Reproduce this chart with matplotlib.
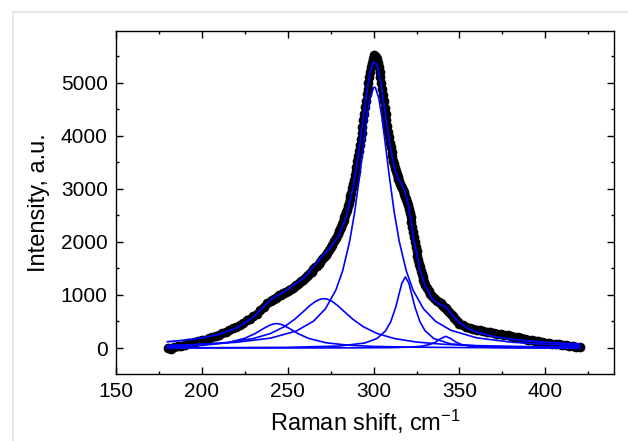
import numpy as np
import matplotlib
matplotlib.use("Agg")
import matplotlib.pyplot as plt
from matplotlib.lines import Line2D
from matplotlib.ticker import MultipleLocator

plt.rcParams['font.family'] = ['Liberation Sans', 'DejaVu Sans']
plt.rcParams['mathtext.default'] = 'regular'

# measured spectrum (black dots), sampled finer around the main peak
shift = np.concatenate([np.arange(180, 240, 2), np.arange(240, 280, 1),
                        np.arange(280, 330, 0.5), np.arange(330, 350, 1),
                        np.arange(350, 421, 2)])
intensity = [
    5, -10, 20, 30, 45, 60, 85, 100, 110, 140, 160, 150, 195, 215, 230,
    250, 285, 300, 335, 370, 400, 440, 470, 520, 555, 610, 650, 720, 770, 840,
    880, 905, 920, 950, 960, 990, 1000, 1030, 1040, 1060,
    1080, 1100, 1110, 1140, 1160, 1190, 1210, 1240, 1260, 1290,
    1320, 1350, 1370, 1410, 1440, 1480, 1520, 1550, 1590, 1630,
    1680, 1720, 1760, 1800, 1850, 1900, 1950, 2010, 2070, 2140,
    2200, 2240, 2290, 2330, 2370, 2420, 2460, 2500, 2560, 2610,
    2670, 2730, 2800, 2860, 2930, 3010, 3090, 3170, 3260, 3340,
    3420, 3520, 3610, 3720, 3830, 3940, 4050, 4170, 4290, 4420,
    4540, 4660, 4780, 4890, 5000, 5100, 5200, 5290, 5370, 5440,
    5490, 5520, 5510, 5480, 5440, 5380, 5300, 5210, 5110, 5000,
    4890, 4770, 4650, 4530, 4410, 4290, 4180, 4070, 3970, 3870,
    3780, 3690, 3610, 3530, 3460, 3390, 3330, 3280, 3230, 3180,
    3140, 3100, 3060, 3020, 2980, 2940, 2900, 2850, 2800, 2750,
    2690, 2620, 2550, 2470, 2380, 2290, 2190, 2090, 1990, 1900,
    1820, 1740, 1660, 1590, 1520, 1460, 1400, 1340, 1290, 1240,
    1190, 1130, 1070, 1020, 980, 950, 920, 890, 860, 840,
    810, 780, 750, 720, 680, 640, 600, 560, 520, 490,
    460, 430, 400, 385, 360, 345, 330, 320, 305, 295, 285, 270,
    262, 250, 238, 225, 212, 200, 190, 175, 160, 148, 135, 125,
    112, 100, 90, 80, 70, 75, 55, 60, 40, 45, 25, 15,
]

# cumulative fit
fit_x = [180, 190, 200, 210, 220, 230, 240, 250, 260, 265, 270, 275, 280, 284,
         288, 291, 294, 296, 298, 300, 302, 304, 306, 308, 310, 312, 314, 316,
         318, 320, 322, 324, 327, 330, 334, 338, 342, 346, 350, 355, 360, 370,
         380, 390, 400, 410, 420]
fit_y = [118, 148, 190, 258, 371, 582, 907, 1106, 1336, 1529, 1726, 1902, 2134,
         2460, 3008, 3606, 4336, 4818, 5205, 5395, 5331, 5040, 4611, 4150, 3742,
         3420, 3220, 3100, 2980, 2740, 2350, 1953, 1478, 1177, 937, 831, 774,
         615, 473, 367, 299, 217, 166, 132, 108, 90, 74]

# fitted components
p300_x = [180, 200, 220, 240, 255, 265, 272, 278, 282, 286, 289, 292, 294, 296,
          298, 300, 301, 303, 305, 307, 309, 312, 315, 319, 323, 329, 336, 345,
          360, 380, 400, 420]
p300_y = [48, 69, 107, 186, 320, 505, 741, 1089, 1457, 2000, 2565, 3276, 3805,
          4312, 4715, 4912, 4912, 4715, 4312, 3805, 3276, 2565, 2000, 1457, 1089,
          741, 505, 334, 192, 110, 71, 49]

p271_x = [180, 200, 215, 230, 240, 248, 254, 259, 263, 266, 269, 271, 273, 276,
          279, 283, 288, 294, 302, 312, 325, 340, 360, 390, 420]
p271_y = [43, 68, 105, 179, 274, 401, 540, 684, 802, 875, 921, 930, 921, 875,
          802, 684, 540, 401, 274, 179, 112, 72, 45, 26, 16]

p243_x = [180, 200, 215, 225, 231, 236, 239.5, 242, 243.5, 245, 247.5, 251, 256,
          262, 272, 285, 300, 320, 350, 385, 420]
p243_y = [24, 49, 100, 183, 272, 368, 429, 455, 460, 455, 429, 368, 272, 183,
          100, 53, 30, 17, 9, 5, 3]

p318_x = [180, 250, 280, 295, 302, 307, 310, 313, 315, 316.5, 318.5, 320.5, 322,
          324, 327, 330, 335, 345, 365, 390, 420]
p318_y = [3, 12, 37, 95, 180, 324, 494, 781, 1039, 1224, 1340, 1224, 1039, 781,
          494, 324, 180, 76, 26, 11, 5]

p342_x = [180, 280, 310, 322, 328, 333, 336, 339, 342, 345, 348, 351, 356, 362,
          375, 400, 420]
p342_y = [0, 2, 7, 18, 34, 68, 110, 176, 220, 176, 110, 68, 34, 18, 7, 2, 1]

fig = plt.figure(figsize=(6.28, 4.41), dpi=100)
ax = fig.add_axes([116 / 628, 1 - 374 / 441, 498 / 628, 343 / 441])

# faint frame of the original page
fig.add_artist(Line2D([13 / 628, 13 / 628], [0, 1 - 12 / 441], color='#e4e4e4', lw=1.2))
fig.add_artist(Line2D([13 / 628, 1], [1 - 12 / 441, 1 - 12 / 441], color='#e4e4e4', lw=1.2))

ax.plot(shift, intensity, 'o', color='black', ms=6, mec='black', zorder=2)

for cx, cy in [(p300_x, p300_y), (p271_x, p271_y), (p243_x, p243_y),
               (p318_x, p318_y), (p342_x, p342_y)]:
    ax.plot(cx, cy, color='#0000ff', lw=1.2, zorder=3)
ax.plot(fit_x, fit_y, color='#0000ff', lw=1.3, zorder=4)

ax.set_xlim(150, 440)
ax.set_ylim(-490, 5975)
ax.xaxis.set_major_locator(MultipleLocator(50))
ax.xaxis.set_minor_locator(MultipleLocator(25))
ax.yaxis.set_major_locator(MultipleLocator(1000))
ax.yaxis.set_minor_locator(MultipleLocator(500))
ax.tick_params(which='both', direction='in', top=True, right=True, width=1.0)
ax.tick_params(which='major', length=5, labelsize=15, pad=6)
ax.tick_params(which='minor', length=2.5)
for s in ax.spines.values():
    s.set_linewidth(1.0)

ax.set_xlabel('Raman shift, cm$^{-1}$', fontsize=17, labelpad=5)
ax.set_ylabel('Intensity, a.u.', fontsize=17, labelpad=8)

fig.savefig('out.png', dpi=100)
